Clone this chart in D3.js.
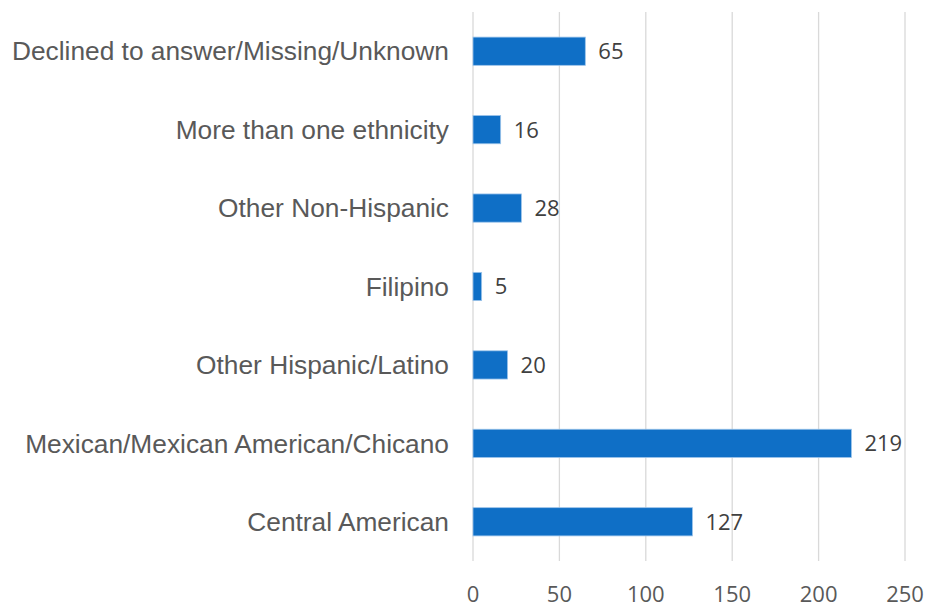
<!DOCTYPE html>
<html>
<head>
<meta charset="utf-8">
<script src="https://cdn.jsdelivr.net/npm/d3@7"></script>
<style>
  body { margin: 0; background: #fff; }
</style>
</head>
<body>
<div id="chart"></div>
<script>
// categories top to bottom
const categories = [
    "Declined to answer/Missing/Unknown",
    "More than one ethnicity",
    "Other Non-Hispanic",
    "Filipino",
    "Other Hispanic/Latino",
    "Mexican/Mexican American/Chicano",
    "Central American"
];
const counts = [65, 16, 28, 5, 20, 219, 127];
const xTicks = [0, 50, 100, 150, 200, 250];

const dimensions = {
    width: 928,
    height: 608,
    margin: { top: 12, right: 23, bottom: 47, left: 473 }
};

const innerW = dimensions.width - dimensions.margin.left - dimensions.margin.right;
const innerH = dimensions.height - dimensions.margin.top - dimensions.margin.bottom;

const svg = d3.select("#chart").append("svg")
    .attr("width", dimensions.width)
    .attr("height", dimensions.height);

const g = svg.append("g")
    .attr("transform", "translate(" + dimensions.margin.left + "," + dimensions.margin.top + ")");

const xScale = d3.scaleLinear()
    .domain([0, 250])
    .range([0, innerW]);

const yScale = d3.scaleBand()
    .domain(categories)
    .range([0, innerH])
    .paddingInner(0.64)
    .paddingOuter(0.32);

// gridlines
g.selectAll(".grid")
    .data(xTicks)
    .enter().append("line")
    .attr("x1", d => xScale(d))
    .attr("x2", d => xScale(d))
    .attr("y1", 0)
    .attr("y2", innerH)
    .attr("stroke", "#d9d9d9")
    .attr("stroke-width", 1.3);

// x tick labels
g.selectAll(".xtick")
    .data(xTicks)
    .enter().append("text")
    .attr("x", d => xScale(d))
    .attr("y", innerH + 41)
    .attr("text-anchor", "middle")
    .style("font-family", "'Open Sans', sans-serif")
    .style("font-size", "22px")
    .style("fill", "#595959")
    .text(d => d);

// bars
g.selectAll(".bar")
    .data(categories)
    .enter().append("rect")
    .attr("x", xScale(0))
    .attr("y", d => yScale(d))
    .attr("width", (d, i) => xScale(counts[i]) - xScale(0))
    .attr("height", yScale.bandwidth())
    .attr("fill", "#0f6fc6")
    .attr("stroke", "#9cc4ea")
    .attr("stroke-width", 0.8);

// value labels
g.selectAll(".val")
    .data(categories)
    .enter().append("text")
    .attr("x", (d, i) => xScale(counts[i]) + 13)
    .attr("y", d => yScale(d) + yScale.bandwidth() / 2)
    .attr("dy", "0.36em")
    .style("font-family", "'Open Sans', sans-serif")
    .style("font-size", "22px")
    .style("fill", "#404040")
    .text((d, i) => counts[i]);

// category labels
g.selectAll(".cat")
    .data(categories)
    .enter().append("text")
    .attr("x", -24)
    .attr("y", d => yScale(d) + yScale.bandwidth() / 2)
    .attr("dy", "0.35em")
    .attr("text-anchor", "end")
    .style("font-family", "'Liberation Sans', Arial, sans-serif")
    .style("font-size", "26.3px")
    .style("fill", "#595959")
    .text(d => d);
</script>
</body>
</html>
